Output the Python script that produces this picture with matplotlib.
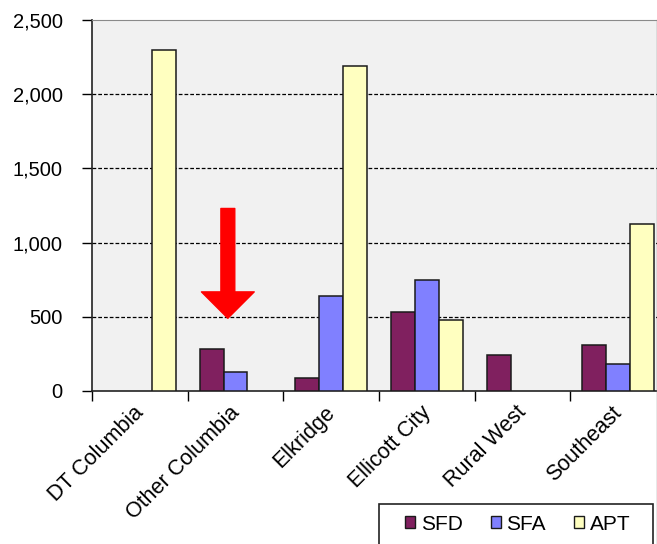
import matplotlib.pyplot as plt
import numpy as np
from matplotlib.lines import Line2D
from matplotlib.patches import Rectangle
from matplotlib.transforms import ScaledTranslation

plt.rcParams['font.family'] = ['Liberation Sans', 'DejaVu Sans']

areas = ['DT Columbia', 'Other Columbia', 'Elkridge', 'Ellicott City',
         'Rural West', 'Southeast']
sfd = [0, 280, 85, 535, 245, 310]
sfa = [0, 130, 640, 750, 0, 180]
apt = [2300, 0, 2190, 480, 0, 1125]

series = [('SFD', sfd, '#80205f'), ('SFA', sfa, '#8080ff'), ('APT', apt, '#ffffc0')]

W, H = 657, 544
fig = plt.figure(figsize=(W / 100, H / 100), dpi=100)
ax = fig.add_axes([92 / W, 153 / H, 574 / W, 371 / H])
ax.set_facecolor('#f1f1f1')

x = np.arange(len(areas))
width = 0.25
for i, (name, vals, color) in enumerate(series):
    vals = np.asarray(vals, dtype=float)
    keep = vals > 0  # empty categories get no bar at all
    ax.bar(x[keep] + (i - 1) * width, vals[keep], width, color=color,
           edgecolor='#1a1a1a', linewidth=1.1, label=name, zorder=3)

ax.set_xlim(-0.5, len(areas) - 0.5)
ax.set_ylim(0, 2500)
ax.set_yticks(np.arange(0, 2501, 500))
ax.set_yticklabels(['{:,}'.format(v) for v in range(0, 2501, 500)])
for v in range(500, 2500, 500):
    ax.axhline(v, color='black', linewidth=0.9, dashes=(3, 1.6), zorder=1)

# boundaries get tick marks, category centres get the labels
ax.set_xticks(np.arange(len(areas) + 1) - 0.5)
ax.set_xticklabels([])
ax.set_xticks(x, minor=True)
ax.set_xticklabels(areas, minor=True, rotation=45, ha='right',
                   rotation_mode='anchor', fontsize=15.5)
ax.tick_params(axis='x', which='minor', length=0, pad=8)
ax.tick_params(axis='x', which='major', length=7, width=1, direction='out')
ax.tick_params(axis='y', length=7, width=1, direction='out', labelsize=14.5, pad=14)
shift = ScaledTranslation(-5 / 72, 0, fig.dpi_scale_trans)
for lbl in ax.get_xticklabels(minor=True):
    lbl.set_transform(lbl.get_transform() + shift)

for side in ('left', 'bottom'):
    ax.spines[side].set_color('#222222')
    ax.spines[side].set_linewidth(1.2)
ax.spines['top'].set_color('#8a8a8a')
ax.spines['right'].set_color('#8a8a8a')

# red arrow pointing at Other Columbia
ax.annotate('', xy=(0.92, 490), xytext=(0.92, 1230),
            arrowprops=dict(arrowstyle='simple,head_length=19,head_width=38,tail_width=10',
                            mutation_scale=1, color='#ff0000', shrinkA=0, shrinkB=0),
            zorder=5)

fig.add_artist(Line2D([656.5 / W, 656.5 / W], [0, 524 / H],
                      color='#8a8a8a', linewidth=1))

# legend box runs off the bottom edge
fig.add_artist(Rectangle((379 / W, -0.05), 274 / W, 0.05 + 40 / H,
                         facecolor='white', edgecolor='#222222', linewidth=1.2))
leg = fig.legend(loc='center left', bbox_to_anchor=(405 / W, 1 - 524 / H),
                 ncol=3, fontsize=15, frameon=False,
                 handlelength=0.5, handleheight=0.5, handletextpad=0.25,
                 columnspacing=1.35, borderpad=0, borderaxespad=0)
for h in leg.legend_handles:
    h.set_linewidth(1)

fig.savefig('out.png', dpi=100)
